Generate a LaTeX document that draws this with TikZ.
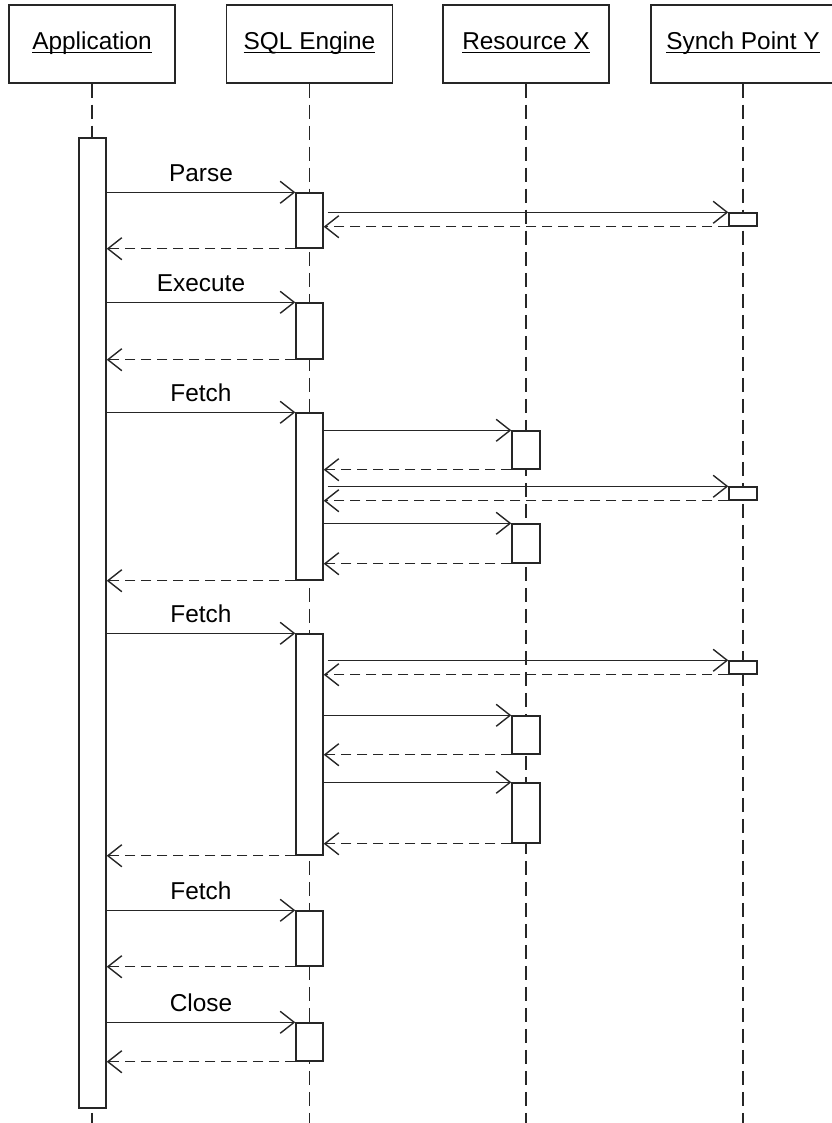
\documentclass[tikz,border=0pt]{standalone}
\usepackage{fontspec}
\setmainfont{Liberation Sans}
\usetikzlibrary{arrows.meta,positioning,fit}
\newcommand{\uname}[1]{\raisebox{-3pt}[0pt][0pt]{\underline{\smash{#1}}}}

\begin{document}
\begin{tikzpicture}[
  x=0.5pt, y=-0.5pt,
  head/.style={draw=black!85, line width=0.75pt, minimum width=83pt, minimum height=39pt, inner sep=0pt, font=\fontsize{12.2}{14}\selectfont},
  life/.style={draw=black!85, line width=0.65pt, dash pattern=on 7pt off 3.5pt},
  act/.style={draw=black!85, fill=white, line width=0.7pt, inner sep=0pt},
  call/.style={draw=black!85, -{Straight Barb[length=7pt, width=11pt]}, line width=0.7pt},
  ret/.style={call, dash pattern=on 5pt off 3pt},
  msg/.style={above=5pt, inner sep=0pt, font=\fontsize{12.2}{14}\selectfont},
]
  \useasboundingbox (0,0) rectangle (831,1123);

  % Participants
  \node[head] (app) at (92,44) {\uname{Application}};
  \node[head] (sql) at (309.5,44) {\uname{SQL Engine}};
  \node[head] (res) at (526,44) {\uname{Resource X}};
  \node[head, minimum width=92pt] (syn) at (743,44) {\uname{Synch Point Y}};

  % Lifelines
  \coordinate (bot) at (0,1123);
  \foreach \p in {app,sql,res,syn}
    \draw[life] (\p.south) -- (\p.south |- bot);

  % Activations
  \node[act, fit={(79,138) (106,1108)}] (a0) {};
  \node[act, fit={(296,193) (323,248)}] (q1) {};
  \node[act, fit={(729,213) (757,226)}] (y1) {};
  \node[act, fit={(296,303) (323,359)}] (q2) {};
  \node[act, fit={(296,413) (323,580)}] (q3) {};
  \node[act, fit={(512,431) (540,469)}] (r1) {};
  \node[act, fit={(729,487) (757,500)}] (y2) {};
  \node[act, fit={(512,524) (540,563)}] (r2) {};
  \node[act, fit={(296,634) (323,855)}] (q4) {};
  \node[act, fit={(729,661) (757,674)}] (y3) {};
  \node[act, fit={(512,716) (540,754)}] (r3) {};
  \node[act, fit={(512,783) (540,843)}] (r4) {};
  \node[act, fit={(296,911) (323,966)}] (q5) {};
  \node[act, fit={(296,1023) (323,1061)}] (q6) {};

  % Parse
  \draw[call] (a0.east |- q1.north) -- node[msg] {Parse} (q1.north west);
  \draw[call] ([xshift=2pt]q1.east |- y1.north) -- (y1.north west);
  \draw[ret] (y1.south west) -- (q1.east |- y1.south);
  \draw[ret] (q1.south west) -- (a0.east |- q1.south);

  % Execute
  \draw[call] (a0.east |- q2.north) -- node[msg] {Execute} (q2.north west);
  \draw[ret] (q2.south west) -- (a0.east |- q2.south);

  % Fetch
  \draw[call] (a0.east |- q3.north) -- node[msg] {Fetch} (q3.north west);
  \draw[call] (q3.east |- r1.north) -- (r1.north west);
  \draw[ret] (r1.south west) -- (q3.east |- r1.south);
  \draw[call] ([xshift=2pt]q3.east |- y2.north) -- (y2.north west);
  \draw[ret] (y2.south west) -- (q3.east |- y2.south);
  \draw[call] (q3.east |- r2.north) -- (r2.north west);
  \draw[ret] (r2.south west) -- (q3.east |- r2.south);
  \draw[ret] (q3.south west) -- (a0.east |- q3.south);

  % Fetch
  \draw[call] (a0.east |- q4.north) -- node[msg] {Fetch} (q4.north west);
  \draw[call] ([xshift=2pt]q4.east |- y3.north) -- (y3.north west);
  \draw[ret] (y3.south west) -- (q4.east |- y3.south);
  \draw[call] (q4.east |- r3.north) -- (r3.north west);
  \draw[ret] (r3.south west) -- (q4.east |- r3.south);
  \draw[call] (q4.east |- r4.north) -- (r4.north west);
  \draw[ret] (r4.south west) -- (q4.east |- r4.south);
  \draw[ret] (q4.south west) -- (a0.east |- q4.south);

  % Fetch
  \draw[call] (a0.east |- q5.north) -- node[msg] {Fetch} (q5.north west);
  \draw[ret] (q5.south west) -- (a0.east |- q5.south);

  % Close
  \draw[call] (a0.east |- q6.north) -- node[msg] {Close} (q6.north west);
  \draw[ret] (q6.south west) -- (a0.east |- q6.south);
\end{tikzpicture}
\end{document}
